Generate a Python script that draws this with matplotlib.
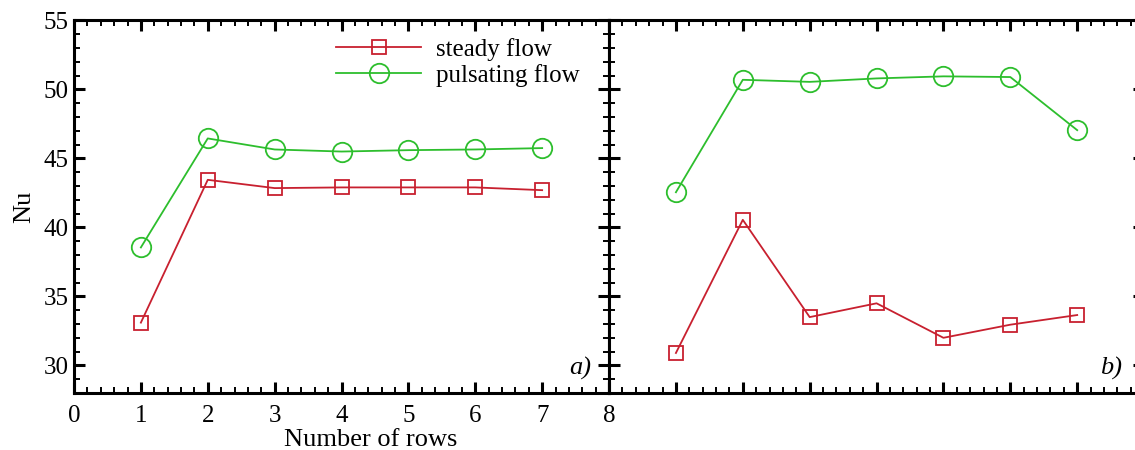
import matplotlib
matplotlib.use("Agg")
import matplotlib.pyplot as plt
from matplotlib.ticker import MultipleLocator

rows = [1, 2, 3, 4, 5, 6, 7]
steady_a = [33.1, 43.45, 42.85, 42.9, 42.9, 42.9, 42.7]
pulsating_a = [38.55, 46.45, 45.65, 45.5, 45.6, 45.65, 45.75]
steady_b = [30.9, 40.55, 33.5, 34.5, 32.0, 32.95, 33.65]
pulsating_b = [42.55, 50.7, 50.55, 50.8, 50.95, 50.9, 47.05]
xticks_a = [0, 1, 2, 3, 4, 5, 6, 7, 8]
yticks = [30, 35, 40, 45, 50, 55]

red = '#C8202F'
green = '#2DBE2D'
serif = ['Liberation Serif', 'DejaVu Serif']
plt.rcParams['font.family'] = serif

fig = plt.figure(figsize=(11.35, 4.5), dpi=100)
ax1 = fig.add_axes([0.0652, 0.1267, 0.4714, 0.8278])
ax2 = fig.add_axes([0.5366, 0.1267, 0.4714, 0.8278])

for ax, st, pu in [(ax1, steady_a, pulsating_a), (ax2, steady_b, pulsating_b)]:
    ax.plot(rows, st, color=red, lw=1.3, marker='s', ms=10, mfc='none',
            mec=red, mew=1.3, label='steady flow')
    ax.plot(rows, pu, color=green, lw=1.3, marker='o', ms=14, mfc='none',
            mec=green, mew=1.3, label='pulsating flow')
    ax.set_xlim(0, 8)
    ax.set_ylim(28, 55)
    ax.set_xticks(xticks_a)
    ax.set_yticks(yticks)
    ax.xaxis.set_minor_locator(MultipleLocator(0.2))
    ax.yaxis.set_minor_locator(MultipleLocator(1))
    ax.tick_params(which='both', direction='in', top=True, right=True)
    ax.tick_params(which='major', length=8, width=2.2, labelsize=18)
    ax.tick_params(which='minor', length=4, width=1.4)
    ax.tick_params(axis='x', which='major', pad=9)
    ax.tick_params(axis='y', which='major', pad=4)
    for s in ax.spines.values():
        s.set_linewidth(2.2)

ax2.tick_params(labelbottom=False, labelleft=False)

ax1.set_ylabel('Nu', fontsize=19, labelpad=6)
ax1.set_xlabel('Number of rows', fontsize=19)
ax1.xaxis.set_label_coords(0.555, -0.097)

ax1.legend(loc='upper right', frameon=False, fontsize=18, handlelength=3.4,
           borderaxespad=0.0, handletextpad=0.6, labelspacing=0.12,
           bbox_to_anchor=(0.964, 0.98))

ax1.text(0.966, 0.035, 'a)', transform=ax1.transAxes, ha='right', va='bottom',
         fontsize=19, style='italic')
ax2.text(0.959, 0.035, 'b)', transform=ax2.transAxes, ha='right', va='bottom',
         fontsize=19, style='italic')

fig.savefig('out.png', dpi=100)
